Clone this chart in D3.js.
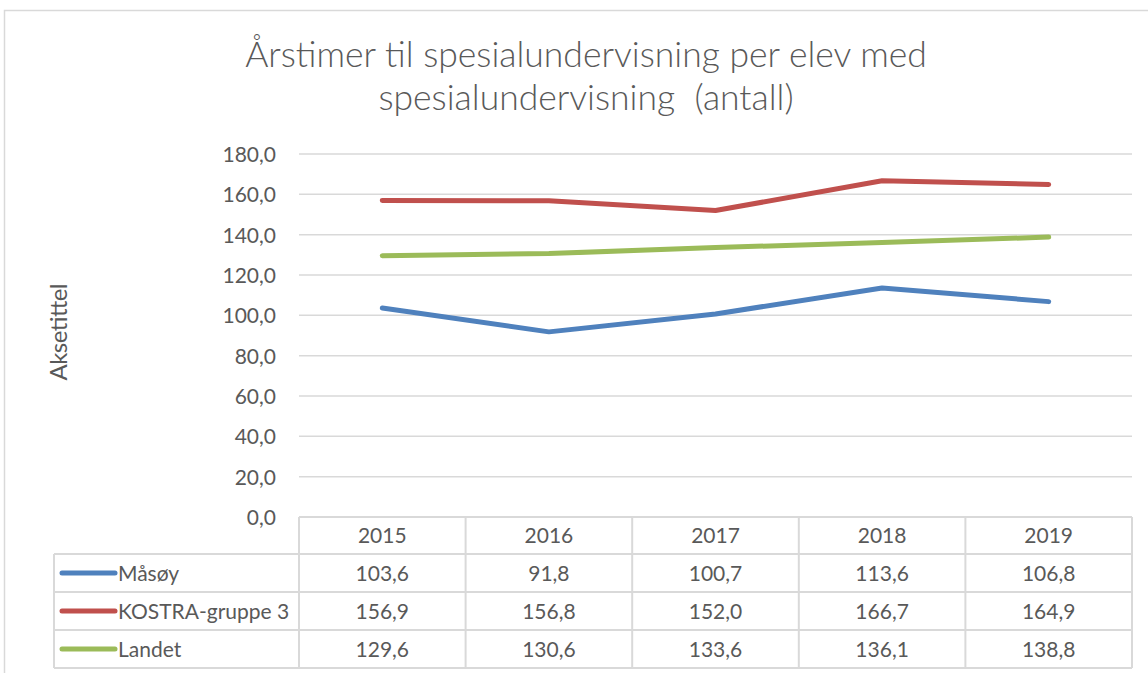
<!DOCTYPE html>
<html>
<head>
<meta charset="utf-8">
<script src="https://cdn.jsdelivr.net/npm/d3@7"></script>
<style>
  body { margin: 0; background: #fff; }
  svg text { font-family: Lato, "Open Sans", sans-serif; fill: #595959; }
</style>
</head>
<body>
<div id="chart"></div>
<script>
// data
let years = ["2015", "2016", "2017", "2018", "2019"];
let seriesNames = ["Måsøy", "KOSTRA-gruppe 3", "Landet"];
let masoy = [103.6, 91.8, 100.7, 113.6, 106.8];
let kostra = [156.9, 156.8, 152.0, 166.7, 164.9];
let landet = [129.6, 130.6, 133.6, 136.1, 138.8];
let yTicks = [0, 20, 40, 60, 80, 100, 120, 140, 160, 180];
let colors = ["#4F81BD", "#C0504D", "#9BBB59"];

let width = 1148, height = 673;
let plot = {left: 299, right: 1132, top: 154, bottom: 517};
let rowH = [37, 38, 38, 38];
let legendLeft = 54;

let svg = d3.select("#chart").append("svg")
    .attr("width", width)
    .attr("height", height);

// chart border
svg.append("rect")
    .attr("x", 4.5).attr("y", 10.5)
    .attr("width", width + 10).attr("height", height + 10)
    .attr("fill", "none")
    .attr("stroke", "#d9d9d9")
    .attr("stroke-width", 1.5);

// title
let title = svg.append("text")
    .attr("text-anchor", "middle")
    .attr("font-size", 35.5)
    .style("font-weight", 300)
    .style("white-space", "pre");
title.append("tspan").attr("x", 586).attr("y", 67).text("Årstimer til spesialundervisning per elev med");
title.append("tspan").attr("x", 586).attr("y", 110).text("spesialundervisning  (antall)");

let x = d3.scaleBand()
    .domain(years)
    .range([plot.left, plot.right]);

let y = d3.scaleLinear()
    .domain([0, 180])
    .range([plot.bottom, plot.top]);

// gridlines
svg.append("g").attr("id", "grid")
    .selectAll("line").data(yTicks.filter(d => d > 0)).enter()
    .append("line")
    .attr("x1", plot.left).attr("x2", plot.right)
    .attr("y1", d => y(d)).attr("y2", d => y(d))
    .attr("stroke", "#d9d9d9")
    .attr("stroke-width", 1.5);

// y axis labels
let yaxis = d3.axisLeft(y)
    .tickValues(yTicks)
    .tickSize(0)
    .tickPadding(23)
    .tickFormat(d => d3.format(".1f")(d).replace(".", ","));
let yaxisSel = svg.append("g").attr("id", "yAxis")
    .attr("transform", `translate(${plot.left}, 0)`)
    .call(yaxis);
yaxisSel.select(".domain").remove();
yaxisSel.selectAll("text")
    .style("font-size", "21px")
    .style("fill", "#595959")
    .style("font-family", "Lato, sans-serif")
    .attr("dy", "0.36em");

// axis title
svg.append("text")
    .attr("transform", "translate(67, 332) rotate(-90)")
    .attr("text-anchor", "middle")
    .attr("textLength", 97)
    .attr("lengthAdjust", "spacing")
    .style("font-size", "24px")
    .text("Aksetittel");

// lines
let allSeries = [masoy, kostra, landet];
let line = d3.line()
    .x((d, i) => x(years[i]) + x.bandwidth() / 2)
    .y(d => y(d));
svg.append("g").attr("id", "lines")
    .selectAll("path").data(allSeries).enter()
    .append("path")
    .attr("d", d => line(d))
    .attr("fill", "none")
    .attr("stroke", (d, i) => colors[i])
    .attr("stroke-width", 5)
    .attr("stroke-linecap", "round")
    .attr("stroke-linejoin", "round");

// data table
let rowTop = [plot.bottom];
rowH.forEach((h, i) => rowTop.push(rowTop[i] + h));
let table = svg.append("g").attr("id", "table");
let gridStroke = "#d9d9d9";

// horizontal lines
rowTop.forEach((yy, i) => {
  table.append("line")
      .attr("x1", i === 0 ? plot.left : legendLeft)
      .attr("x2", plot.right)
      .attr("y1", yy).attr("y2", yy)
      .attr("stroke", gridStroke).attr("stroke-width", 2);
});
// vertical lines
let colEdges = years.map(d => x(d)).concat([plot.right]);
colEdges.forEach(xx => {
  table.append("line")
      .attr("x1", xx).attr("x2", xx)
      .attr("y1", rowTop[0]).attr("y2", rowTop[rowTop.length - 1])
      .attr("stroke", gridStroke).attr("stroke-width", 2);
});
table.append("line")
    .attr("x1", legendLeft).attr("x2", legendLeft)
    .attr("y1", rowTop[1]).attr("y2", rowTop[rowTop.length - 1])
    .attr("stroke", gridStroke).attr("stroke-width", 2);

// header
table.selectAll("text.year").data(years).enter()
    .append("text").attr("class", "year")
    .attr("x", d => x(d) + x.bandwidth() / 2)
    .attr("y", (rowTop[0] + rowTop[1]) / 2)
    .attr("dy", "0.36em")
    .attr("text-anchor", "middle")
    .style("font-size", "21px")
    .text(d => d);

// rows
allSeries.forEach((vals, r) => {
  let cy = (rowTop[r + 1] + rowTop[r + 2]) / 2;
  table.append("line")
      .attr("x1", 62).attr("x2", 115)
      .attr("y1", cy).attr("y2", cy)
      .attr("stroke", colors[r])
      .attr("stroke-width", 5)
      .attr("stroke-linecap", "round");
  table.append("text")
      .attr("x", 118).attr("y", cy).attr("dy", "0.36em")
      .style("font-size", "21px")
      .text(seriesNames[r]);
  table.selectAll("text.v" + r).data(vals).enter()
      .append("text").attr("class", "v" + r)
      .attr("x", (d, i) => x(years[i]) + x.bandwidth() / 2)
      .attr("y", cy).attr("dy", "0.36em")
      .attr("text-anchor", "middle")
      .style("font-size", "21px")
      .text(d => d3.format(".1f")(d).replace(".", ","));
});
</script>
</body>
</html>
